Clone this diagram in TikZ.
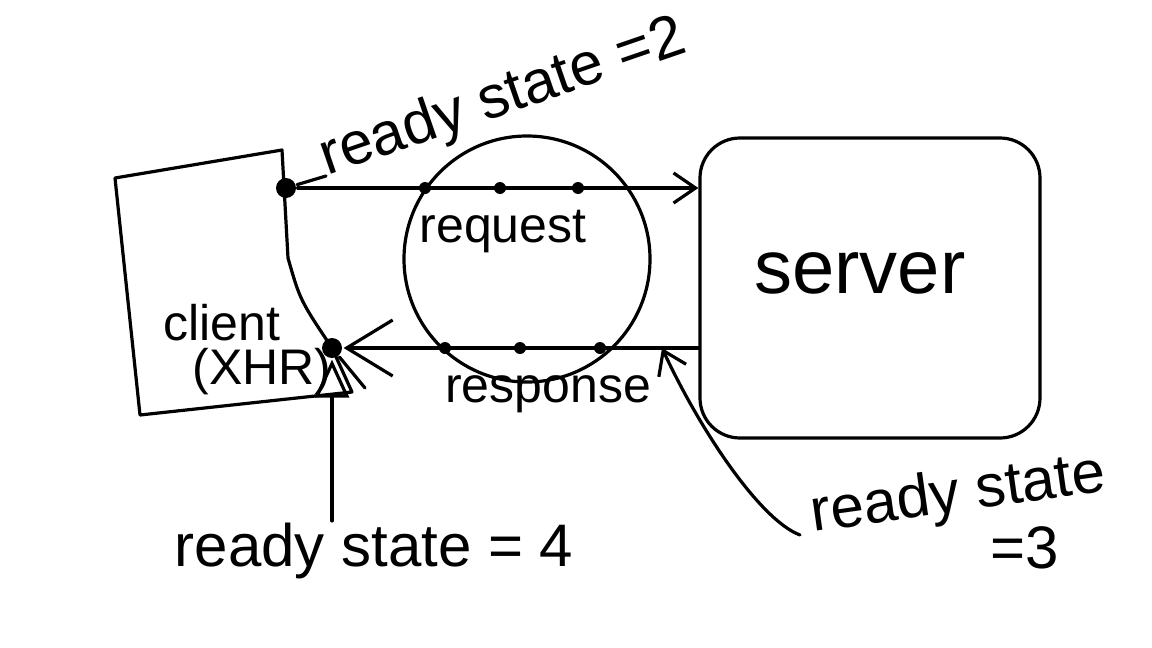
\documentclass[tikz,border=0pt]{standalone}
\usepackage{fontspec}
\setmainfont{Liberation Sans}
\usetikzlibrary{positioning,arrows.meta,calc}

\begin{document}
\begin{tikzpicture}[x=1pt,y=-1pt,line width=3.2pt,line join=round,line cap=round,
		every node/.style={inner sep=0pt},
		lbl/.style={font=\fontsize{60}{64}\selectfont},
		msgtxt/.style={font=\fontsize{50}{54}\selectfont},
		dot/.style={circle,fill,minimum size=12pt},
		bigdot/.style={circle,fill,minimum size=20pt},
		barb/.style={-{Straight Barb[length=22pt,width=30pt]}},
		bigbarb/.style={-{Straight Barb[length=46pt,width=56pt]}},
		opentri/.style={-{Triangle[open,length=38pt,width=34pt]}}]
		\useasboundingbox (0,0) rectangle (1152,648);
		\begin{scope}
			% client and server
			\coordinate (sentpt) at (286,188);
			\coordinate (donept) at (332,348);
			\draw (115,178) -- (282,150) -- (288,258) .. controls (300,300) .. (donept) -- (352,392) -- (140,415) -- cycle;
			\node[bigdot] (sent) at (sentpt) {};
			\node[bigdot] (done) at (donept) {};
			\node[draw,rounded corners=40pt,minimum width=340pt,minimum height=300pt] (server) at (870,288) {};
			\node[circle,draw,minimum size=246pt] (msg) at (527,259) {};
			\node[msgtxt,anchor=base] (cl) at (222,340) {client};
			\node[msgtxt,anchor=base] (xhr) at (262,384) {(XHR)};
			\node[font=\fontsize{76}{80}\selectfont,anchor=base] (srv) at (860,293) {server};
			\node[msgtxt,anchor=base] (req) at (503,242) {request};
			\node[msgtxt,anchor=base] (resp) at (548,402) {response};
			% request and response
			\coordinate (back) at (server.west |- done);
			\coordinate (r3) at (662,348);
			\path
				(sent) edge[barb] (sent -| server.west)
				(back) edge[bigbarb] (done);
			\foreach \x [count=\i] in {425,500,578}
				\node[dot] (q\i) at (\x,188) {};
			\foreach \x [count=\i] in {445,520,600}
				\node[dot] (p\i) at (\x,348) {};
			\draw (done) -- ++(33,40);
			% ready states
			\node[lbl,anchor=base west,rotate=19] (rs2) at (326,176) {ready state =2};
			\node[lbl,anchor=base] (rs4) at (374,566) {ready state = 4};
			\node[lbl,anchor=base west,rotate=8] (rs3) at (812,532) {ready state};
			\node[lbl,anchor=base] (rs3b) at (1025,568) {=3};
			\coordinate (rs3tail) at (800,535);
			\draw (sent) -- (rs2.base west);
			\draw[opentri] (done |- rs4.north) -- (done);
			\draw[barb] (rs3tail) .. controls (760,520) and (700,430) .. (r3);
		\end{scope}
	\end{tikzpicture}
\end{document}
